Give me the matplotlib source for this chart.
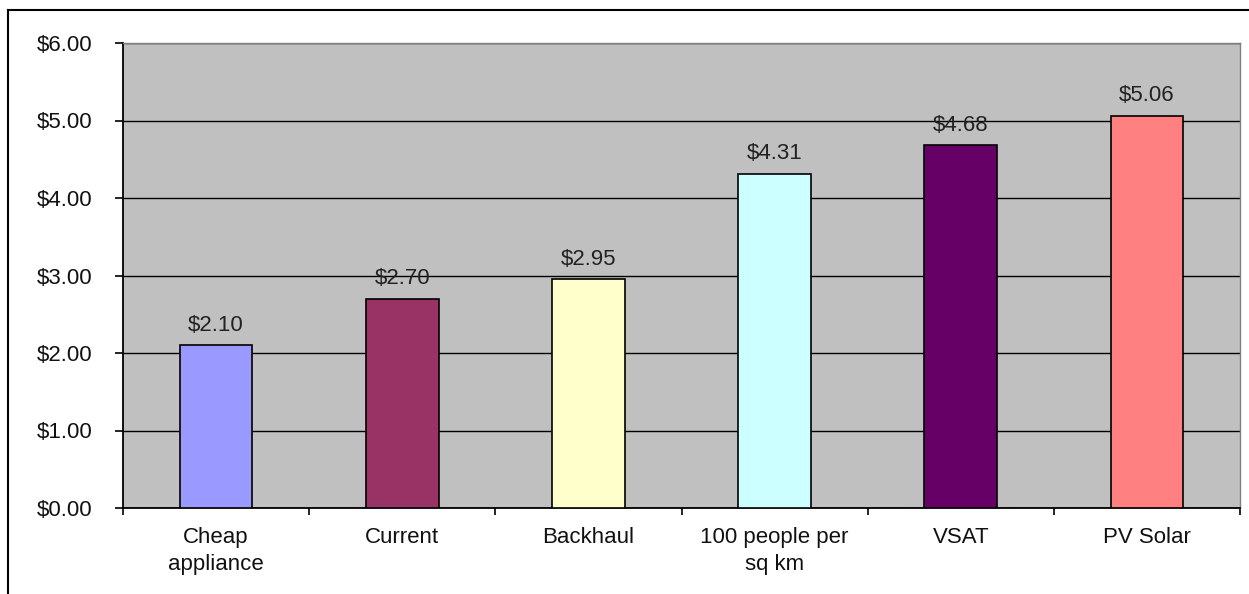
import matplotlib
matplotlib.use("Agg")
import matplotlib.pyplot as plt
from matplotlib.lines import Line2D
import numpy as np

categories = ["Cheap\nappliance", "Current", "Backhaul", "100 people per\nsq km", "VSAT", "PV Solar"]
values = [2.10, 2.70, 2.95, 4.31, 4.68, 5.06]
colors = ["#9999FF", "#993366", "#FFFFCC", "#CCFFFF", "#660066", "#FF8080"]
yticks = [0, 1, 2, 3, 4, 5, 6]
ytick_labels = ["$0.00", "$1.00", "$2.00", "$3.00", "$4.00", "$5.00", "$6.00"]

plt.rcParams['font.family'] = ['Liberation Sans', 'DejaVu Sans']
FS = 16

fig = plt.figure(figsize=(12.49, 5.94), dpi=100)
fig.patch.set_facecolor("white")
ax = fig.add_axes([123/1249, 86/594, 1117/1249, 465/594])
ax.set_facecolor("#C0C0C0")

x = np.arange(len(categories)) + 0.5
ax.set_axisbelow(True)
ax.yaxis.grid(True, color="black", linewidth=1.0)
ax.bar(x, values, width=0.39, color=colors, edgecolor="black", linewidth=1.2, zorder=3)

for xi, v in zip(x, values):
    ax.annotate(f"${v:.2f}", (xi, v), xytext=(0, 7), textcoords="offset points",
                ha="center", va="bottom", fontsize=FS, color="#222222", zorder=4)

ax.set_xlim(0, len(categories))
ax.set_ylim(0, 6)
ax.set_yticks(yticks)
ax.set_yticklabels(ytick_labels, fontsize=FS, color="#111111")
ax.set_xticks(np.arange(len(categories) + 1))
ax.set_xticklabels([])
ax.set_xticks(x, minor=True)
ax.set_xticklabels(categories, minor=True, fontsize=FS, linespacing=1.35, color="#111111")
ax.tick_params(axis="x", which="major", direction="out", length=5, width=1.2, color="black")
ax.tick_params(axis="x", which="minor", length=0, pad=14)
ax.tick_params(axis="y", direction="out", length=5.8, width=1.2, pad=16)

for s in ["top", "right"]:
    ax.spines[s].set_color("#808080")
    ax.spines[s].set_linewidth(1.0)
for s in ["left", "bottom"]:
    ax.spines[s].set_color("black")
    ax.spines[s].set_linewidth(1.3)

# outer chart frame (left and top visible)
fig.add_artist(Line2D([8/1249, 8/1249], [0, 1 - 10/594], transform=fig.transFigure, color="black", linewidth=1.5))
fig.add_artist(Line2D([8/1249, 1], [1 - 10/594, 1 - 10/594], transform=fig.transFigure, color="black", linewidth=1.5))

fig.savefig("out.png", dpi=100)
